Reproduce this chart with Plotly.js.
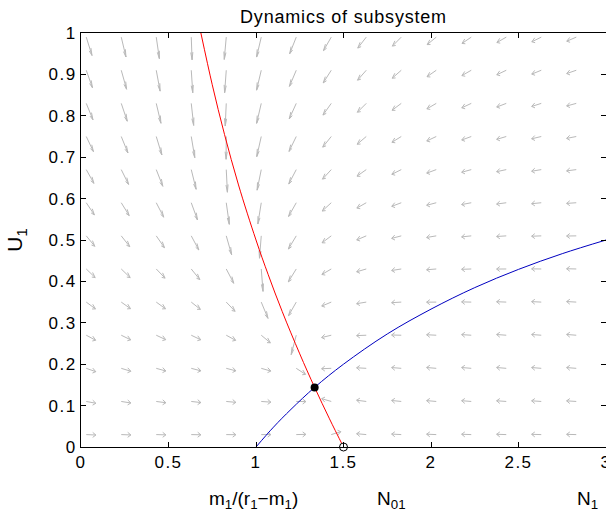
<!DOCTYPE html>
<html><head><meta charset="utf-8">
<script src="https://cdn.plot.ly/plotly-3.0.1.min.js"></script>
<style>
html,body{margin:0;padding:0;background:#fff}
#chart{width:606px;height:516px}
#chart .xtick text, #chart .ytick text{letter-spacing:1.5px}
#chart .gtitle{letter-spacing:0.8px}
</style>
</head><body><div id="chart"></div>
<script>
// ---- data ----
const gridN = [0.03,0.23,0.43,0.63,0.83,1.03,1.23,1.43,1.63,1.83,2.03,2.23,2.43,2.63,2.83];
const gridU = [0.03,0.11,0.19,0.27,0.35,0.43,0.51,0.59,0.67,0.75,0.83,0.91,0.99];
const xTickVals = [0,0.5,1,1.5,2,2.5,3];
const xTickText = ['0','0.5','1','1.5','2','2.5','3'];
const yTickVals = [0,0.1,0.2,0.3,0.4,0.5,0.6,0.7,0.8,0.9,1];
const yTickText = ['0','0.1','0.2','0.3','0.4','0.5','0.6','0.7','0.8','0.9','1'];
// N1-nullcline (red)
const redN = [0.685,0.75,0.82,0.9,1.0,1.07,1.15,1.25,1.335,1.42,1.5];
const redU = [1.0,0.875,0.755,0.633,0.5,0.416,0.327,0.225,0.144,0.068,0.0];
// U1-nullcline (blue)
const blueN = [1.0,1.1,1.2,1.335,1.5,1.75,2.0,2.25,2.5,2.75,3.0];
const blueU = [0.0,0.048,0.091,0.144,0.2,0.273,0.333,0.385,0.429,0.467,0.5];
// equilibria
const eqN = [1.335], eqU = [0.144];
const n01N = [1.5], n01U = [0];
// model of the subsystem giving the direction field
const r1 = 2, m1 = 1, D = 1, N01 = 1.5;
const arrowLen = 0.055;

function field(N, U) {
  const dN = D * (N01 - N) - r1 * N * U / (1 + N);
  const dU = U * (r1 * N / (1 + N) - m1 - U);
  return [dN, dU];
}

// build quiver (MATLAB-style heads)
const qx = [], qy = [];
const alpha = 0.33, beta = 0.33;
gridU.forEach(U => {
  gridN.forEach(N => {
    const f = field(N, U);
    const m = Math.hypot(f[0], f[1]) || 1;
    const u = arrowLen * f[0] / m, v = arrowLen * f[1] / m;
    const tx = N + u, ty = U + v;
    qx.push(N, tx, null);
    qy.push(U, ty, null);
    qx.push(tx - alpha * (u + beta * v), tx, tx - alpha * (u - beta * v), null);
    qy.push(ty - alpha * (v - beta * u), ty, ty - alpha * (v + beta * u), null);
  });
});

const font = 'Liberation Sans, Arial, Helvetica, sans-serif';
const sub = s => '<sub>' + s + '</sub>';

const traces = [
  {x: qx, y: qy, mode: 'lines', line: {color: 'rgb(185,185,185)', width: 1}, hoverinfo: 'skip', showlegend: false},
  {x: redN, y: redU, mode: 'lines', line: {color: '#ff0000', width: 1, shape: 'spline'}, showlegend: false},
  {x: blueN, y: blueU, mode: 'lines', line: {color: '#0000c0', width: 1, shape: 'spline'}, showlegend: false},
  {x: eqN, y: eqU, mode: 'markers', marker: {color: '#000', size: 8}, showlegend: false},
  {x: n01N, y: n01U, mode: 'markers', cliponaxis: false, marker: {color: '#fff', size: 8, line: {color: '#000', width: 1}}, showlegend: false}
];

const axisCommon = {
  showline: true, linecolor: '#000', linewidth: 1, mirror: 'ticks',
  ticks: 'inside', ticklen: 5, tickcolor: '#000', tickwidth: 1,
  showgrid: false, zeroline: false, ticklabeloverflow: 'allow',
  tickfont: {family: font, size: 17, color: '#000'}
};

const layout = {
  width: 606, height: 516,
  margin: {l: 81, r: 0, t: 33, b: 69},
  paper_bgcolor: '#fff', plot_bgcolor: '#fff',
  title: {text: 'Dynamics of subsystem', font: {family: font, size: 18, color: '#000'},
          x: 0.5, xref: 'paper', y: 1 - 17 / 516, yref: 'container', yanchor: 'middle'},
  xaxis: Object.assign({}, axisCommon, {range: [0, 3], tickmode: 'array', tickvals: xTickVals, ticktext: xTickText}),
  yaxis: Object.assign({}, axisCommon, {range: [0, 1], tickmode: 'array', tickvals: yTickVals, ticktext: yTickText,
          title: {text: 'U<sub>1</sub>', font: {family: font, size: 21, color: '#000'}, standoff: 24}}),
  annotations: [
    {text: 'm' + sub('1') + '/(r' + sub('1') + '−m' + sub('1') + ')', x: 0.985, xref: 'x', xanchor: 'center', y: -0.128, yref: 'paper', yanchor: 'middle', showarrow: false, font: {family: font, size: 19, color: '#000'}},
    {text: 'N' + sub('01'), x: 1.68, xref: 'x', xanchor: 'left', y: -0.128, yref: 'paper', yanchor: 'middle', showarrow: false, font: {family: font, size: 19, color: '#000'}},
    {text: 'N' + sub('1'), x: 2.82, xref: 'x', xanchor: 'left', y: -0.128, yref: 'paper', yanchor: 'middle', showarrow: false, font: {family: font, size: 19, color: '#000'}}
  ]
};

Plotly.newPlot('chart', traces, layout, {staticPlot: true, displayModeBar: false});
</script>
</body></html>
